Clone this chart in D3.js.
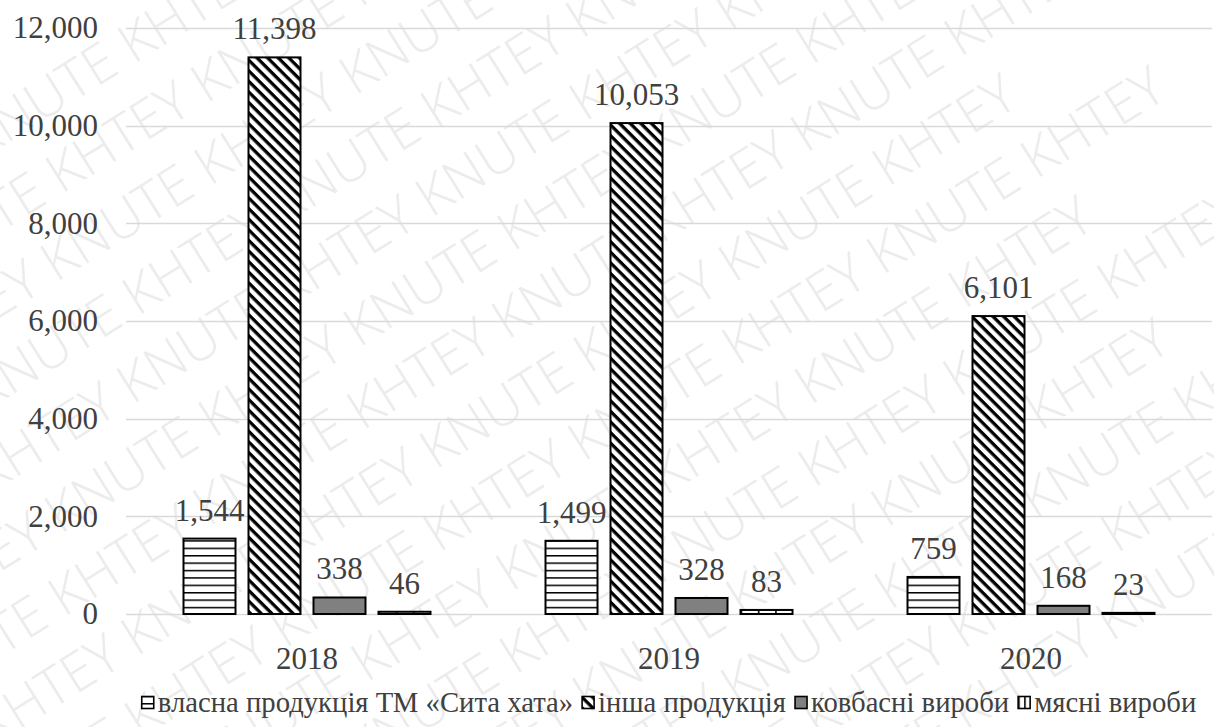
<!DOCTYPE html>
<html>
<head>
<meta charset="utf-8">
<script src="https://cdn.jsdelivr.net/npm/d3@7"></script>
<style>
  body { margin: 0; background: #fff; }
  svg { display: block; }
</style>
</head>
<body>
<div id="chart"></div>
<script>
// Data
const years = ["2018", "2019", "2020"];
const seriesNames = [
  "власна продукція ТМ «Сита хата»",
  "інша продукція",
  "ковбасні вироби",
  "мясні вироби"
];
const ownProducts = [1544, 1499, 759];
const otherProducts = [11398, 10053, 6101];
const sausages = [338, 328, 168];
const meatProducts = [46, 83, 23];
const yTicks = [0, 2000, 4000, 6000, 8000, 10000, 12000];

const allValues = [ownProducts, otherProducts, sausages, meatProducts];
const fills = ["url(#hlines)", "url(#diag)", "#808080", "url(#vlines)"];
const legendFills = ["url(#hlines)", "url(#diag)", "#808080", "url(#vlinesKey)"];

const width = 1214;
const height = 727;
const font = "'Liberation Serif', 'DejaVu Serif', 'Times New Roman', serif";

const svg = d3
  .select("#chart")
  .append("svg")
  .attr("width", width)
  .attr("height", height);

const defs = svg.append("defs");

// horizontal lines
const ph = defs.append("pattern")
  .attr("id", "hlines")
  .attr("patternUnits", "userSpaceOnUse")
  .attr("width", 8).attr("height", 7.4);
ph.append("rect").attr("width", 8).attr("height", 7.4).attr("fill", "#fff");
ph.append("rect").attr("y", 0).attr("width", 8).attr("height", 1.5).attr("fill", "#000");

// wide downward diagonal
const pd = defs.append("pattern")
  .attr("id", "diag")
  .attr("patternUnits", "userSpaceOnUse")
  .attr("width", 7.5).attr("height", 7.5)
  .attr("patternTransform", "rotate(45)");
pd.append("rect").attr("width", 7.5).attr("height", 7.5).attr("fill", "#fff");
pd.append("rect").attr("width", 7.5).attr("height", 3.3).attr("fill", "#000");

// wide vertical lines, split each bar in thirds
function vPattern(id, frac) {
  const p = defs.append("pattern")
    .attr("id", id)
    .attr("patternUnits", "objectBoundingBox")
    .attr("width", frac).attr("height", 1);
  p.append("rect").attr("width", 100).attr("height", 2000).attr("fill", "#fff");
  p.append("rect").attr("x", 0).attr("width", 1.6).attr("height", 2000).attr("fill", "#000");
}
vPattern("vlines", 1 / 3);
vPattern("vlinesKey", 1 / 2);

// watermark in the background
const wm = svg.append("g")
  .attr("transform", "rotate(-32 607 363)")
  .attr("fill", "#ececec")
  .style("font-family", "'Open Sans', 'DejaVu Sans', sans-serif")
  .style("font-weight", 300)
  .style("font-size", "54px");
const wmText = "KNUTE KHTEY KNUTE KHTEY KNUTE KHTEY KNUTE KHTEY";
d3.range(-7, 8).forEach((i) => {
  wm.append("text")
    .attr("x", -300 + (i % 2 === 0 ? 0 : 130))
    .attr("y", 363 + i * 72)
    .text(wmText);
});

const margin = { left: 126, right: 2, top: 28, bottom: 113 };

const x0 = d3.scaleBand()
  .domain(years)
  .range([margin.left, width - margin.right]);

const groupWidth = 247;
const x1 = d3.scaleBand()
  .domain(d3.range(4))
  .range([(x0.bandwidth() - groupWidth) / 2, (x0.bandwidth() + groupWidth) / 2])
  .paddingInner(0.2);

const y = d3.scaleLinear()
  .domain([0, 12000])
  .range([614, 28]);

// gridlines
svg.append("g")
  .selectAll("line")
  .data(yTicks)
  .enter()
  .append("line")
  .attr("x1", margin.left)
  .attr("x2", width - margin.right)
  .attr("y1", (d) => Math.round(y(d)) + 0.5)
  .attr("y2", (d) => Math.round(y(d)) + 0.5)
  .attr("stroke", "#d9d9d9")
  .attr("stroke-width", 1.3);

// y axis labels
const yAxis = svg.append("g")
  .attr("transform", `translate(${margin.left - 28},0)`)
  .call(d3.axisLeft(y).tickValues(yTicks).tickSize(0).tickPadding(0).tickFormat(d3.format(",")));
yAxis.select(".domain").remove();
yAxis.selectAll("text")
  .style("font-family", font)
  .style("font-size", "31px")
  .attr("fill", "#404040");

// x axis labels
const xAxis = svg.append("g")
  .attr("transform", `translate(0,${y(0)})`)
  .call(d3.axisBottom(x0).tickSize(0).tickPadding(33));
xAxis.select(".domain").remove();
xAxis.selectAll("text")
  .style("font-family", font)
  .style("font-size", "31px")
  .attr("fill", "#404040");

// bars
const rows = [];
years.forEach((yr, i) => {
  allValues.forEach((vals, s) => {
    rows.push({ year: yr, s: s, value: vals[i] });
  });
});

const bars = svg.append("g");
bars.selectAll("rect")
  .data(rows)
  .enter()
  .append("rect")
  .attr("x", (d) => x0(d.year) + x1(d.s))
  .attr("y", (d) => y(d.value))
  .attr("width", x1.bandwidth())
  .attr("height", (d) => y(0) - y(d.value))
  .attr("fill", (d) => fills[d.s])
  .attr("stroke", "#000")
  .attr("stroke-width", 2);

// data labels
svg.append("g")
  .selectAll("text")
  .data(rows)
  .enter()
  .append("text")
  .attr("x", (d) => x0(d.year) + x1(d.s) + x1.bandwidth() / 2)
  .attr("y", (d) => y(d.value) - 18)
  .attr("text-anchor", "middle")
  .style("font-family", font)
  .style("font-size", "31px")
  .attr("fill", "#404040")
  .text((d) => d3.format(",")(d.value));

// legend
const legend = svg.append("g");
const legendY = 703;
let cursor = 0;
seriesNames.forEach((name, s) => {
  const g = legend.append("g");
  g.append("rect")
    .attr("x", cursor)
    .attr("y", legendY - 6.5)
    .attr("width", 12)
    .attr("height", 12)
    .attr("fill", legendFills[s])
    .attr("stroke", "#000")
    .attr("stroke-width", 1.6);
  const t = g.append("text")
    .attr("x", cursor + 16)
    .attr("y", legendY + 9)
    .style("font-family", font)
    .style("font-size", "28.7px")
    .attr("fill", "#404040")
    .text(name);
  cursor += 16 + t.node().getComputedTextLength() + 9;
});
const legendWidth = cursor - 9;
legend.attr("transform", `translate(${(margin.left + width - margin.right) / 2 - legendWidth / 2},0)`);
</script>
</body>
</html>
